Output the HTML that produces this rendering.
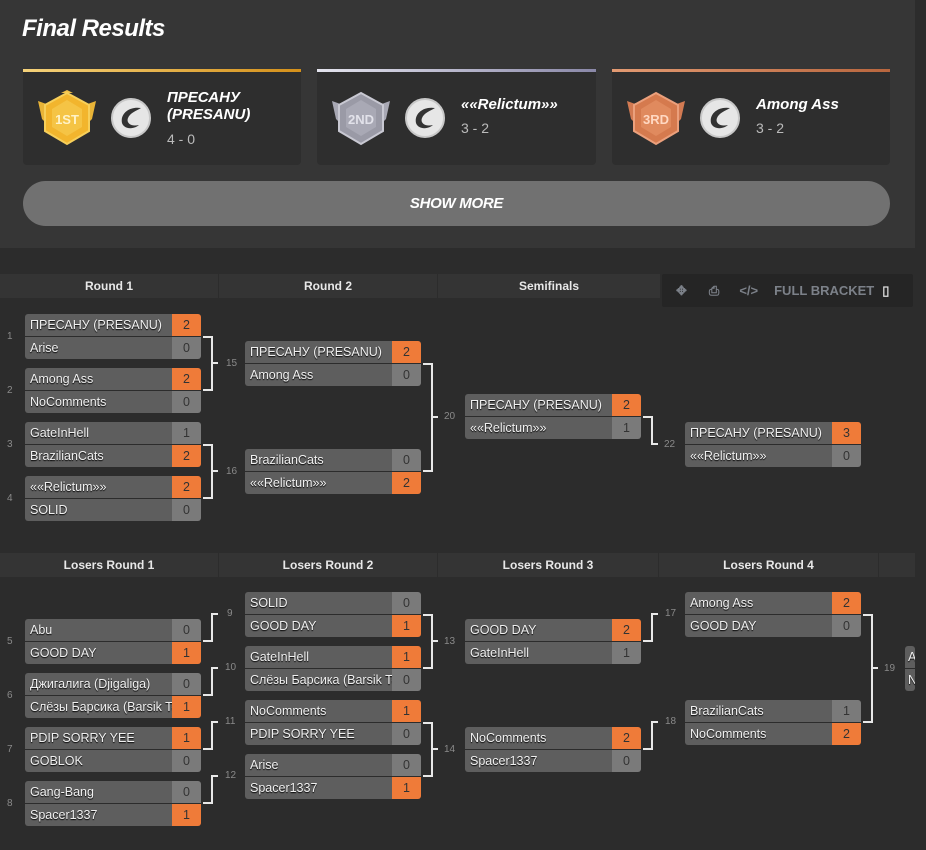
<!DOCTYPE html>
<html><head><meta charset="utf-8"><style>
*{box-sizing:border-box;margin:0;padding:0}
body{width:926px;height:850px;background:#2c2c2c;font-family:"Liberation Sans",sans-serif;position:relative;overflow:hidden;color:#eee}
.a{position:absolute}
.top{left:0;top:0;width:915px;height:248px;background:#363636}
h1{position:absolute;left:22px;top:15px;font-size:24px;font-style:italic;font-weight:bold;color:#fff;letter-spacing:-0.5px}
.card{position:absolute;top:69px;height:96px;background:#2e2e2e;border-radius:0 0 4px 4px}
.card .bar{position:absolute;left:0;top:0;right:0;height:3px}
.card .nm{position:absolute;left:144px;top:20px;font-size:15px;font-weight:bold;font-style:italic;color:#fff;line-height:17px}
.card .sc{position:absolute;left:144px;font-size:14px;color:#bbb}
.logo{position:absolute;left:88px;top:29px;width:40px;height:40px}
.btn{left:23px;top:181px;width:867px;height:45px;border-radius:23px;background:#717171;text-align:center;line-height:45px;font-weight:bold;font-style:italic;font-size:15px;color:#fff;letter-spacing:-0.3px}
.hd{position:absolute;height:24px;background:#343434;text-align:center;line-height:24px;font-size:12px;font-weight:bold;color:#e8e8e8}
.m{position:absolute;width:176px;border-radius:3px;overflow:hidden}
.r{height:22px;margin-bottom:1px;display:flex;font-size:12.5px;line-height:22px}
.r:last-child{margin-bottom:0}
.r .n{flex:1;background:#5e5e5e;padding-left:5px;color:#f0f0f0;white-space:nowrap;overflow:hidden;text-shadow:0 1px 1px #000}
.r .s{width:29px;background:#7a7a7a;text-align:center;color:#333}
.r .s.w{background:#ef7b39}
.lb{position:absolute;font-size:10px;color:#8a8a8a}
.c{position:absolute;border:2px solid #e8e8e8;border-left:none}
.t{position:absolute;height:2px;background:#e8e8e8;width:6px}
.tb{left:662px;top:274px;width:251px;height:33px;background:#252525;border-radius:2px;color:#7c8189;font-size:13px;font-weight:bold;line-height:33px}
</style></head><body>
<div class="a top"></div>
<h1>Final Results</h1>

<div class="card" style="left:23px;width:278px"><div class="bar" style="background:linear-gradient(90deg,#f5d27a,#d4901a)"></div>
<svg class="a" style="left:14px;top:20px" width="60" height="58" viewBox="0 0 60 58"><path d="M1 12 L15 17 L15 40 L5 30 Z M59 12 L45 17 L45 40 L55 30 Z" fill="#e9b437"/><polygon points="24,4 30,1 36,4" fill="#f2c24a"/><polygon points="30,4 52,16 52,42 30,55 8,42 8,16" fill="#f2b52d" stroke="#f7cf5a" stroke-width="2"/><polygon points="30,11 45,20 45,38 30,47 15,38 15,20" fill="#f5c445"/><text x="30" y="35" font-size="13" text-anchor="middle" fill="#fff3c8" font-family="Liberation Sans" font-weight="bold">1ST</text></svg>
<svg class="logo" viewBox="0 0 40 40"><circle cx="20" cy="20" r="19" fill="#e6e6e6" stroke="#c8c8c8" stroke-width="2"/><path d="M30 10 C18 8 9 16 11 25 C13 31 22 32 28 27 C20 29 15 25 17 20 C19 15 25 13 30 10 Z" fill="#333"/></svg>
<div class="nm">ПРЕСАНУ<br>(PRESANU)</div><div class="sc" style="top:62px">4 - 0</div></div>

<div class="card" style="left:317px;width:279px"><div class="bar" style="background:linear-gradient(90deg,#e4e4ee,#8a88a8)"></div>
<svg class="a" style="left:14px;top:20px" width="60" height="58" viewBox="0 0 60 58"><path d="M1 12 L15 17 L15 40 L5 30 Z M59 12 L45 17 L45 40 L55 30 Z" fill="#a8a8b4"/><polygon points="30,4 52,16 52,42 30,55 8,42 8,16" fill="#9a9aa6" stroke="#c8c8d2" stroke-width="2"/><polygon points="30,11 45,20 45,38 30,47 15,38 15,20" fill="#a9a9b5"/><text x="30" y="35" font-size="13" text-anchor="middle" fill="#e2e2ea" font-family="Liberation Sans" font-weight="bold">2ND</text></svg>
<svg class="logo" viewBox="0 0 40 40"><circle cx="20" cy="20" r="19" fill="#e6e6e6" stroke="#c8c8c8" stroke-width="2"/><path d="M30 10 C18 8 9 16 11 25 C13 31 22 32 28 27 C20 29 15 25 17 20 C19 15 25 13 30 10 Z" fill="#333"/></svg>
<div class="nm" style="top:27px">««Relictum»»</div><div class="sc" style="top:51px">3 - 2</div></div>

<div class="card" style="left:612px;width:278px"><div class="bar" style="background:linear-gradient(90deg,#e29a72,#b8663e)"></div>
<svg class="a" style="left:14px;top:20px" width="60" height="58" viewBox="0 0 60 58"><path d="M1 12 L15 17 L15 40 L5 30 Z M59 12 L45 17 L45 40 L55 30 Z" fill="#d27a52"/><polygon points="30,4 52,16 52,42 30,55 8,42 8,16" fill="#d57a4e" stroke="#eba07c" stroke-width="2"/><polygon points="30,11 45,20 45,38 30,47 15,38 15,20" fill="#e08a5e"/><text x="30" y="35" font-size="13" text-anchor="middle" fill="#ffd8c2" font-family="Liberation Sans" font-weight="bold">3RD</text></svg>
<svg class="logo" viewBox="0 0 40 40"><circle cx="20" cy="20" r="19" fill="#e6e6e6" stroke="#c8c8c8" stroke-width="2"/><path d="M30 10 C18 8 9 16 11 25 C13 31 22 32 28 27 C20 29 15 25 17 20 C19 15 25 13 30 10 Z" fill="#333"/></svg>
<div class="nm" style="top:27px">Among Ass</div><div class="sc" style="top:51px">3 - 2</div></div>

<div class="a btn">SHOW MORE</div>

<div class="hd" style="left:0;top:274px;width:218px">Round 1</div>
<div class="hd" style="left:219px;top:274px;width:218px">Round 2</div>
<div class="hd" style="left:438px;top:274px;width:222px">Semifinals</div>
<div class="a tb"><span style="margin-left:14px">✥</span><span style="margin-left:22px">⎙</span><span style="margin-left:20px">&lt;/&gt;</span><span style="margin-left:16px">FULL BRACKET</span><span style="margin-left:8px;color:#ddd">▯</span></div>

<div class="m" style="left:25px;top:314px"><div class="r"><div class="n">ПРЕСАНУ (PRESANU)</div><div class="s w">2</div></div><div class="r"><div class="n">Arise</div><div class="s">0</div></div></div>
<div class="m" style="left:25px;top:368px"><div class="r"><div class="n">Among Ass</div><div class="s w">2</div></div><div class="r"><div class="n">NoComments</div><div class="s">0</div></div></div>
<div class="m" style="left:25px;top:422px"><div class="r"><div class="n">GateInHell</div><div class="s">1</div></div><div class="r"><div class="n">BrazilianCats</div><div class="s w">2</div></div></div>
<div class="m" style="left:25px;top:476px"><div class="r"><div class="n">««Relictum»»</div><div class="s w">2</div></div><div class="r"><div class="n">SOLID</div><div class="s">0</div></div></div>
<div class="lb" style="left:7px;top:331px">1</div><div class="lb" style="left:7px;top:385px">2</div><div class="lb" style="left:7px;top:439px">3</div><div class="lb" style="left:7px;top:493px">4</div>
<div class="c" style="left:203px;top:336px;width:10px;height:55px"></div><div class="t" style="left:212px;top:362px"></div><div class="lb" style="left:226px;top:358px">15</div>
<div class="c" style="left:203px;top:444px;width:10px;height:55px"></div><div class="t" style="left:212px;top:470px"></div><div class="lb" style="left:226px;top:466px">16</div>

<div class="m" style="left:245px;top:341px"><div class="r"><div class="n">ПРЕСАНУ (PRESANU)</div><div class="s w">2</div></div><div class="r"><div class="n">Among Ass</div><div class="s">0</div></div></div>
<div class="m" style="left:245px;top:449px"><div class="r"><div class="n">BrazilianCats</div><div class="s">0</div></div><div class="r"><div class="n">««Relictum»»</div><div class="s w">2</div></div></div>
<div class="c" style="left:423px;top:363px;width:10px;height:109px"></div><div class="t" style="left:432px;top:416px"></div><div class="lb" style="left:444px;top:411px">20</div>

<div class="m" style="left:465px;top:394px"><div class="r"><div class="n">ПРЕСАНУ (PRESANU)</div><div class="s w">2</div></div><div class="r"><div class="n">««Relictum»»</div><div class="s">1</div></div></div>
<div class="c" style="left:643px;top:416px;width:10px;height:29px;border-top:2px solid #e8e8e8;border-bottom:none"></div><div class="t" style="left:652px;top:443px;width:6px"></div><div class="lb" style="left:664px;top:439px">22</div>
<div class="m" style="left:685px;top:422px"><div class="r"><div class="n">ПРЕСАНУ (PRESANU)</div><div class="s w">3</div></div><div class="r"><div class="n">««Relictum»»</div><div class="s">0</div></div></div>

<div class="hd" style="left:0;top:553px;width:218px">Losers Round 1</div>
<div class="hd" style="left:219px;top:553px;width:218px">Losers Round 2</div>
<div class="hd" style="left:438px;top:553px;width:220px">Losers Round 3</div>
<div class="hd" style="left:659px;top:553px;width:219px">Losers Round 4</div>
<div class="hd" style="left:879px;top:553px;width:36px"></div>

<div class="m" style="left:25px;top:619px"><div class="r"><div class="n">Abu</div><div class="s">0</div></div><div class="r"><div class="n">GOOD DAY</div><div class="s w">1</div></div></div>
<div class="m" style="left:25px;top:673px"><div class="r"><div class="n">Джигалига (Djigaliga)</div><div class="s">0</div></div><div class="r"><div class="n">Слёзы Барсика (Barsik Tears)</div><div class="s w">1</div></div></div>
<div class="m" style="left:25px;top:727px"><div class="r"><div class="n">PDIP SORRY YEE</div><div class="s w">1</div></div><div class="r"><div class="n">GOBLOK</div><div class="s">0</div></div></div>
<div class="m" style="left:25px;top:781px"><div class="r"><div class="n">Gang-Bang</div><div class="s">0</div></div><div class="r"><div class="n">Spacer1337</div><div class="s w">1</div></div></div>
<div class="lb" style="left:7px;top:636px">5</div><div class="lb" style="left:7px;top:690px">6</div><div class="lb" style="left:7px;top:744px">7</div><div class="lb" style="left:7px;top:798px">8</div>
<div class="c" style="left:203px;top:613px;width:10px;height:29px;border-top:none;border-bottom:2px solid #e8e8e8"></div><div class="t" style="left:212px;top:613px"></div><div class="lb" style="left:227px;top:608px">9</div>
<div class="c" style="left:203px;top:667px;width:10px;height:29px;border-top:none;border-bottom:2px solid #e8e8e8"></div><div class="t" style="left:212px;top:667px"></div><div class="lb" style="left:225px;top:662px">10</div>
<div class="c" style="left:203px;top:721px;width:10px;height:29px;border-top:none;border-bottom:2px solid #e8e8e8"></div><div class="t" style="left:212px;top:721px"></div><div class="lb" style="left:225px;top:716px">11</div>
<div class="c" style="left:203px;top:775px;width:10px;height:29px;border-top:none;border-bottom:2px solid #e8e8e8"></div><div class="t" style="left:212px;top:775px"></div><div class="lb" style="left:225px;top:770px">12</div>

<div class="m" style="left:245px;top:592px"><div class="r"><div class="n">SOLID</div><div class="s">0</div></div><div class="r"><div class="n">GOOD DAY</div><div class="s w">1</div></div></div>
<div class="m" style="left:245px;top:646px"><div class="r"><div class="n">GateInHell</div><div class="s w">1</div></div><div class="r"><div class="n">Слёзы Барсика (Barsik Tears)</div><div class="s">0</div></div></div>
<div class="m" style="left:245px;top:700px"><div class="r"><div class="n">NoComments</div><div class="s w">1</div></div><div class="r"><div class="n">PDIP SORRY YEE</div><div class="s">0</div></div></div>
<div class="m" style="left:245px;top:754px"><div class="r"><div class="n">Arise</div><div class="s">0</div></div><div class="r"><div class="n">Spacer1337</div><div class="s w">1</div></div></div>
<div class="c" style="left:423px;top:614px;width:10px;height:55px"></div><div class="t" style="left:432px;top:640px"></div><div class="lb" style="left:444px;top:636px">13</div>
<div class="c" style="left:423px;top:722px;width:10px;height:55px"></div><div class="t" style="left:432px;top:748px"></div><div class="lb" style="left:444px;top:744px">14</div>

<div class="m" style="left:465px;top:619px"><div class="r"><div class="n">GOOD DAY</div><div class="s w">2</div></div><div class="r"><div class="n">GateInHell</div><div class="s">1</div></div></div>
<div class="m" style="left:465px;top:727px"><div class="r"><div class="n">NoComments</div><div class="s w">2</div></div><div class="r"><div class="n">Spacer1337</div><div class="s">0</div></div></div>
<div class="c" style="left:643px;top:613px;width:10px;height:29px;border-top:none;border-bottom:2px solid #e8e8e8"></div><div class="t" style="left:652px;top:613px"></div><div class="lb" style="left:665px;top:608px">17</div>
<div class="c" style="left:643px;top:721px;width:10px;height:29px;border-top:none;border-bottom:2px solid #e8e8e8"></div><div class="t" style="left:652px;top:721px"></div><div class="lb" style="left:665px;top:716px">18</div>

<div class="m" style="left:685px;top:592px"><div class="r"><div class="n">Among Ass</div><div class="s w">2</div></div><div class="r"><div class="n">GOOD DAY</div><div class="s">0</div></div></div>
<div class="m" style="left:685px;top:700px"><div class="r"><div class="n">BrazilianCats</div><div class="s">1</div></div><div class="r"><div class="n">NoComments</div><div class="s w">2</div></div></div>
<div class="c" style="left:863px;top:614px;width:10px;height:109px"></div><div class="t" style="left:872px;top:667px"></div><div class="lb" style="left:884px;top:663px">19</div>
<div class="m" style="left:905px;top:646px;width:10px"><div class="r"><div class="n" style="padding-left:3px">A</div></div><div class="r"><div class="n" style="padding-left:3px">N</div></div></div>
</body></html>
